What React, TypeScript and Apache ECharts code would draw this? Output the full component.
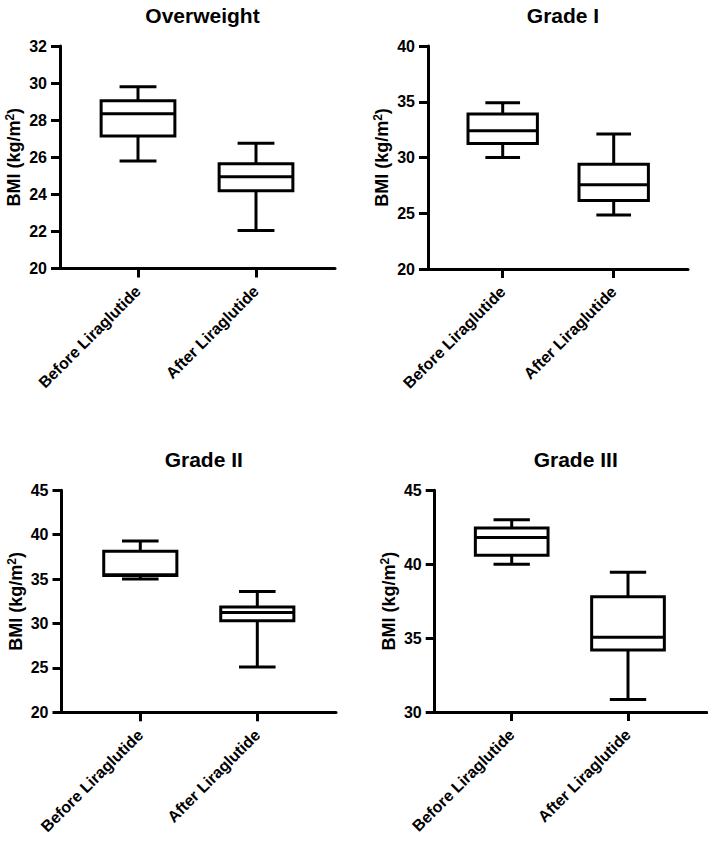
import React, { useEffect, useRef } from "react";
import * as echarts from "echarts";

// ---------- data ----------
const categories = ["Before Liraglutide", "After Liraglutide"];
const panelTitles = ["Overweight", "Grade I", "Grade II", "Grade III"];
const yAxisName = "{a|BMI (kg/m}{s|2}{a|)}";

// each box: [min, Q1, median, Q3, max]
const overweightBefore = [25.8, 27.15, 28.35, 29.05, 29.8];
const overweightAfter = [22.05, 24.2, 24.95, 25.65, 26.75];
const grade1Before = [30.0, 31.25, 32.4, 33.9, 34.9];
const grade1After = [24.85, 26.15, 27.55, 29.4, 32.1];
const grade2Before = [35.0, 35.4, 35.5, 38.15, 39.3];
const grade2After = [25.1, 30.3, 31.25, 31.85, 33.6];
const grade3Before = [40.0, 40.6, 41.8, 42.45, 43.0];
const grade3After = [30.85, 34.2, 35.05, 37.8, 39.45];

// y axis ranges: [min, max, interval]
const overweightRange = [20, 32, 2];
const grade1Range = [20, 40, 5];
const grade2Range = [20, 45, 5];
const grade3Range = [30, 45, 5];

const panelBoxes = [
  [overweightBefore, overweightAfter],
  [grade1Before, grade1After],
  [grade2Before, grade2After],
  [grade3Before, grade3After],
];
const panelRanges = [overweightRange, grade1Range, grade2Range, grade3Range];

// ---------- layout (pixels) ----------
const layout = [
  { axisX: 60, right: 335, top: 46, bottom: 268.5, tick1: 138, tick2: 256, titleTop: 0 },
  { axisX: 428, right: 688, top: 46, bottom: 269, tick1: 502.7, tick2: 613.7, titleTop: 0 },
  { axisX: 61.5, right: 336, top: 490.3, bottom: 712.3, tick1: 140.3, tick2: 257.3, titleTop: 444 },
  { axisX: 434.7, right: 706.7, top: 490.3, bottom: 712, tick1: 511.7, tick2: 628, titleTop: 444 },
];

const FONT = "'Liberation Sans', Arial, Helvetica, sans-serif";
const INK = "#000";
const LW = 3;

function buildOption() {
  const grid: any[] = [];
  const xAxis: any[] = [];
  const yAxis: any[] = [];
  const title: any[] = [];
  const series: any[] = [];

  layout.forEach((p, i) => {
    const [mn, mx, iv] = panelRanges[i];
    const band = p.tick2 - p.tick1;
    const outer = i * 2;
    const inner = i * 2 + 1;

    grid.push({ left: p.axisX, width: p.right - p.axisX, top: p.top, height: p.bottom - p.top });
    grid.push({ left: p.tick1 - band / 2, width: band * 2, top: p.top, height: p.bottom - p.top });

    title.push({
      text: panelTitles[i],
      left: (p.axisX + p.right) / 2,
      top: p.titleTop,
      textAlign: "center",
      textStyle: { fontFamily: FONT, fontWeight: "bold", fontSize: 21, color: INK },
    });

    // outer grid: frame axes
    xAxis.push({
      gridIndex: outer,
      type: "value",
      min: 0,
      max: 1,
      axisLine: { show: true, lineStyle: { color: INK, width: LW } },
      axisTick: { show: false },
      axisLabel: { show: false },
      splitLine: { show: false },
    });
    yAxis.push({
      gridIndex: outer,
      type: "value",
      min: mn,
      max: mx,
      interval: iv,
      name: yAxisName,
      nameLocation: "middle",
      nameGap: 36,
      nameTextStyle: {
        rich: {
          a: { fontFamily: FONT, fontWeight: "bold", fontSize: 18, color: INK, lineHeight: 20 },
          s: { fontFamily: FONT, fontWeight: "bold", fontSize: 12, color: INK, verticalAlign: "top", lineHeight: 20 },
        },
      },
      axisLine: { show: true, lineStyle: { color: INK, width: LW } },
      axisTick: { show: true, length: 9, lineStyle: { color: INK, width: LW } },
      axisLabel: { fontFamily: FONT, fontWeight: "bold", fontSize: 16, color: INK, margin: 13 },
      splitLine: { show: false },
    });

    // inner grid: categories + boxes
    xAxis.push({
      gridIndex: inner,
      type: "category",
      data: categories,
      boundaryGap: true,
      axisLine: { show: false },
      axisTick: { show: true, alignWithLabel: true, length: 9, lineStyle: { color: INK, width: LW } },
      axisLabel: {
        interval: 0,
        rotate: 45,
        margin: 20,
        fontFamily: FONT,
        fontWeight: "bold",
        fontSize: 16,
        color: INK,
      },
      splitLine: { show: false },
    });
    yAxis.push({
      gridIndex: inner,
      type: "value",
      min: mn,
      max: mx,
      show: false,
      splitLine: { show: false },
    });

    series.push({
      type: "custom",
      xAxisIndex: inner,
      yAxisIndex: inner,
      data: panelBoxes[i].map((b, k) => [k, ...b]),
      encode: { x: 0, y: [1, 2, 3, 4, 5] },
      renderItem: (params: any, api: any) => {
        const idx = api.value(0);
        const pMin = api.coord([idx, api.value(1)]);
        const pQ1 = api.coord([idx, api.value(2)]);
        const pMed = api.coord([idx, api.value(3)]);
        const pQ3 = api.coord([idx, api.value(4)]);
        const pMax = api.coord([idx, api.value(5)]);
        const bw = api.size([1, 0])[0] * 0.625;
        const cap = bw / 2;
        const x = pMed[0];
        const style = { stroke: INK, lineWidth: LW, fill: null };
        return {
          type: "group",
          children: [
            { type: "line", shape: { x1: x, y1: pMax[1], x2: x, y2: pQ3[1] }, style },
            { type: "line", shape: { x1: x, y1: pQ1[1], x2: x, y2: pMin[1] }, style },
            { type: "line", shape: { x1: x - cap / 2, y1: pMax[1], x2: x + cap / 2, y2: pMax[1] }, style },
            { type: "line", shape: { x1: x - cap / 2, y1: pMin[1], x2: x + cap / 2, y2: pMin[1] }, style },
            {
              type: "rect",
              shape: { x: x - bw / 2, y: pQ3[1], width: bw, height: pQ1[1] - pQ3[1] },
              style: { stroke: INK, lineWidth: LW, fill: "#fff" },
            },
            { type: "line", shape: { x1: x - bw / 2, y1: pMed[1], x2: x + bw / 2, y2: pMed[1] }, style },
          ],
        };
      },
    });
  });

  return {
    animation: false,
    backgroundColor: "#fff",
    title,
    grid,
    xAxis,
    yAxis,
    series,
  };
}

export default function App() {
  const ref = useRef<HTMLDivElement>(null);
  useEffect(() => {
    if (!ref.current) return;
    const chart = echarts.init(ref.current, undefined, { renderer: "svg" });
    chart.setOption(buildOption() as any);
    return () => chart.dispose();
  }, []);
  return (
    <div
      ref={ref}
      style={{ position: "fixed", left: 0, top: 0, width: 708, height: 841, background: "#fff" }}
    />
  );
}
